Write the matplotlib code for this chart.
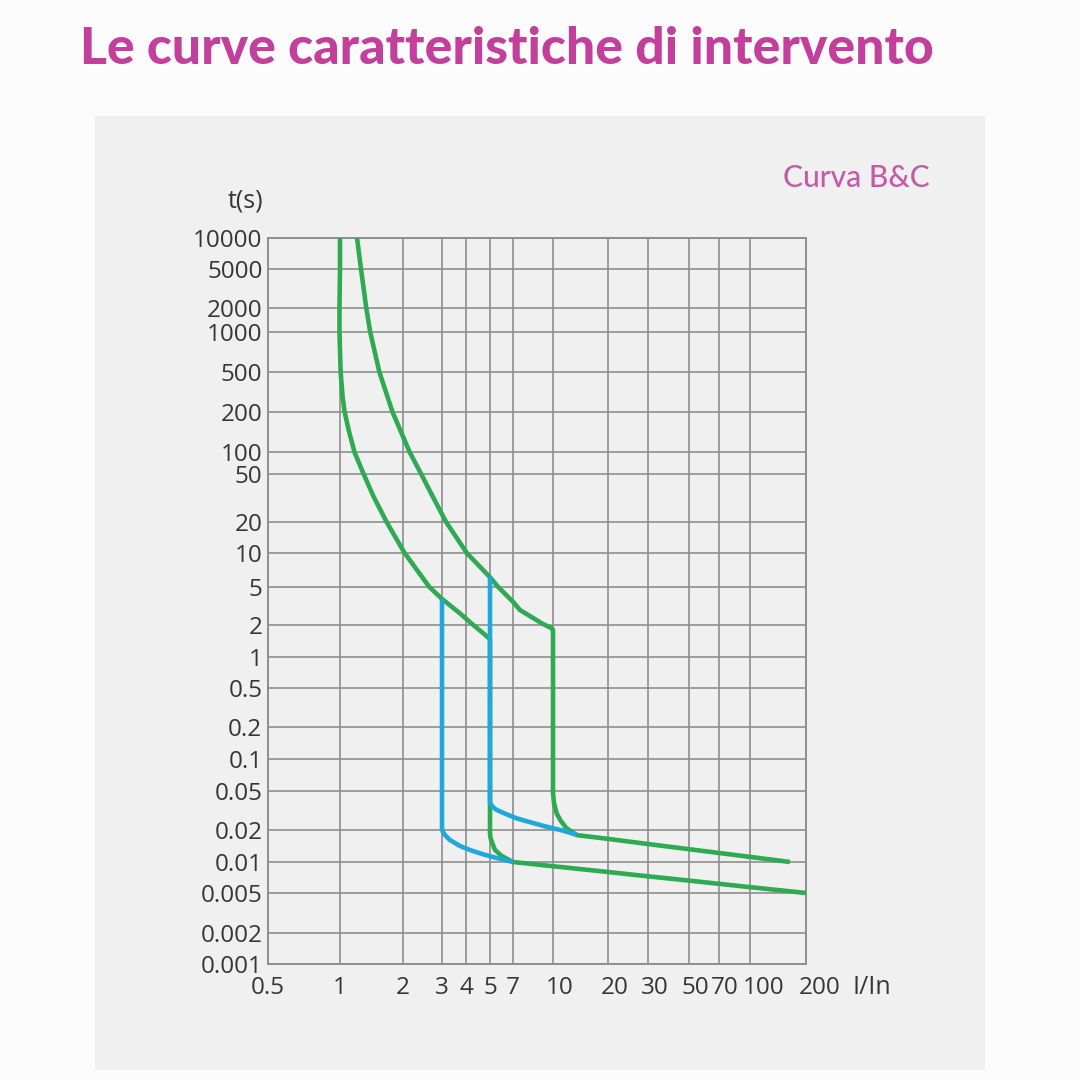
import numpy as np
import matplotlib
matplotlib.use("Agg")
import matplotlib.pyplot as plt
import matplotlib.transforms as mtransforms
from matplotlib.patches import Rectangle

# printed chart grid: values and where the sheet puts them (not a clean log scale)
x_ticks = [0.5, 1, 2, 3, 4, 5, 7, 10, 20, 30, 50, 70, 100, 200]
x_break = [268, 340, 403, 442, 466, 490, 513, 553, 608, 648, 689, 719, 750, 806]
x_labels = ["0.5", "1", "2", "3", "4", "5", "7", "10", "20", "30", "50", "70", "100", "200"]
y_ticks = [0.001, 0.002, 0.005, 0.01, 0.02, 0.05, 0.1, 0.2, 0.5, 1, 2, 5,
           10, 20, 50, 100, 200, 500, 1000, 2000, 5000, 10000]
y_break = [964, 933, 893, 862, 830, 791, 759, 727, 688, 657, 625, 587,
           553, 522, 474, 452, 412, 372, 332, 308, 269, 238]
y_labels = ["0.001", "0.002", "0.005", "0.01", "0.02", "0.05", "0.1", "0.2", "0.5", "1", "2", "5",
            "10", "20", "50", "100", "200", "500", "1000", "2000", "5000", "10000"]

# B curve, lower limit: thermal part, magnetic drop at 5 In, tail
b_low_I = [1.0, 1.0, 0.995, 0.995, 1.007, 1.029, 1.052, 1.102, 1.172, 1.297, 1.445, 1.67,
           2.034, 2.63, 3.0, 3.71, 4.28, 4.85, 5.0,
           5.0, 5.03, 5.13, 5.38, 5.93, 7.0, 10, 20, 30, 50, 70, 100, 200]
b_low_t = [10000, 5000, 2000, 1000, 500, 283.6, 200, 144.8, 100, 50, 32.6, 20,
           10, 5, 3.75, 2.66, 2, 1.57, 1.47,
           0.0188, 0.0170, 0.0155, 0.01297, 0.0114, 0.0100, 0.0091, 0.0080, 0.00726, 0.0066,
           0.00614, 0.0057, 0.005]

# C curve, upper limit: thermal part, magnetic drop at 10 In, tail
c_up_I = [1.206, 1.26, 1.335, 1.394, 1.542, 1.782, 2.142, 2.416, 2.723, 3.15, 4.03, 5.0, 5.64,
          7.0, 7.45, 8.37, 9.14, 9.9, 10.0,
          10.0, 10.13, 10.47, 11.0, 11.8, 13.5, 20, 30, 50, 70, 100, 164]
c_up_t = [10000, 5000, 2000, 1000, 500, 200, 100, 50, 32.6, 20, 10, 6.1, 5,
          3.5, 2.87, 2.37, 2.05, 1.86, 1.8,
          0.0477, 0.0375, 0.0296, 0.0250, 0.0210, 0.0179, 0.0165, 0.01476, 0.0132, 0.01216,
          0.01117, 0.010]

# magnetic release bands (blue)
b_mag_I = [3.0, 3.0, 3.03, 3.11, 3.3, 3.72, 4.15, 4.69, 5.54, 7.0]
b_mag_t = [3.75, 0.0206, 0.0192, 0.0179, 0.0161, 0.01415, 0.01297, 0.01181, 0.0109, 0.0100]
c_mag_I = [5.0, 5.0, 5.24, 5.52, 6.38, 7.23, 8.17, 9.44, 11.38, 13.5]
c_mag_t = [6.2, 0.0377, 0.0341, 0.0320, 0.0289, 0.0263, 0.0240, 0.0216, 0.0197, 0.0180]

GREEN = "#2eaa52"
BLUE = "#1fa8dc"
GRID = "#8e8e8e"
TEXT = "#363636"
PINK = "#c23f9c"


def fwd_x(v):
    v = np.clip(np.asarray(v, dtype=float), 1e-9, None)
    return np.interp(np.log10(v), np.log10(x_ticks), x_break)


def inv_x(p):
    return 10 ** np.interp(p, x_break, np.log10(x_ticks))


def fwd_y(v):
    v = np.clip(np.asarray(v, dtype=float), 1e-9, None)
    return np.interp(np.log10(v), np.log10(y_ticks), -np.asarray(y_break, dtype=float))


def inv_y(p):
    return 10 ** np.interp(p, -np.asarray(y_break, dtype=float), np.log10(y_ticks))


def main() -> None:
    plt.rcParams['font.family'] = ['Open Sans', 'DejaVu Sans']
    W = 1080
    fig = plt.figure(figsize=(10.8, 10.8), dpi=100, facecolor="#fcfcfc")

    # light grey card behind the chart
    fig.patches.append(Rectangle((95 / W, 1 - 1070 / W), 890 / W, 954 / W,
                                 transform=fig.transFigure, facecolor="#f0f0f0",
                                 edgecolor="none", zorder=-5))

    ax = fig.add_axes([268 / W, 1 - 964 / W, 538 / W, 726 / W])
    ax.set_facecolor("#f0f0f0")
    ax.set_xscale("function", functions=(fwd_x, inv_x))
    ax.set_yscale("function", functions=(fwd_y, inv_y))
    ax.set_xlim(0.5, 200)
    ax.set_ylim(0.001, 10000)

    fs = 17.5
    ax.set_xticks(x_ticks)
    ax.set_xticklabels([])
    ax.set_yticks(y_ticks)
    ax.set_yticklabels(y_labels, fontsize=fs, color=TEXT)
    ax.minorticks_off()
    ax.tick_params(length=0, pad=4)
    ax.grid(True, color=GRID, linewidth=1.2)
    for s in ax.spines.values():
        s.set_color(GRID)
        s.set_linewidth(1.4)

    # x labels: multi-digit ones sit a bit right of their grid line on the sheet
    shifts = [0, 0, 0, 0, 0, 0, 0, 7, 7, 7, 6, 6, 14, 14]
    trans = mtransforms.blended_transform_factory(ax.transData, ax.transAxes)
    for val, lab, dx in zip(x_ticks, x_labels, shifts):
        off = mtransforms.ScaledTranslation(dx / 100, 0, fig.dpi_scale_trans)
        ax.text(val, -0.033, lab, transform=trans + off, ha="center", va="center",
                fontsize=fs, color=TEXT, clip_on=False)

    lw = 3.3
    style = dict(lw=lw, solid_capstyle="butt", solid_joinstyle="round")
    ax.plot(b_low_I, b_low_t, color=GREEN, zorder=3, **style)
    ax.plot(c_up_I, c_up_t, color=GREEN, zorder=3, **style)
    ax.plot(b_mag_I, b_mag_t, color=BLUE, zorder=4, **style)
    ax.plot(c_mag_I, c_mag_t, color=BLUE, zorder=4, **style)

    fig.text(245 / W, 1 - 201 / W, "t(s)", ha="center", va="center", fontsize=18, color=TEXT)
    fig.text(872 / W, 1 - 987 / W, "I/In", ha="center", va="center", fontsize=18, color=TEXT)

    title = fig.text(80 / W, 1 - 64 / W, "Le curve caratteristiche di intervento",
                     ha="left", va="baseline", fontsize=30, fontweight="black",
                     color=PINK, family=["Lato", "DejaVu Sans"])
    sub = fig.text(930 / W, 1 - 187 / W, "Curva B&C", ha="right", va="baseline",
                   fontsize=17, fontweight="medium", color="#c55aa8",
                   family=["Lato", "DejaVu Sans"])

    # fit title and subtitle widths to the reference
    fig.canvas.draw()
    r = fig.canvas.get_renderer()
    w = title.get_window_extent(r).width
    title.set_fontsize(30 * 852 / w)
    w = sub.get_window_extent(r).width
    sub.set_fontsize(17 * 147 / w)

    fig.savefig("out.png", dpi=100, facecolor=fig.get_facecolor())


if __name__ == "__main__":
    main()
